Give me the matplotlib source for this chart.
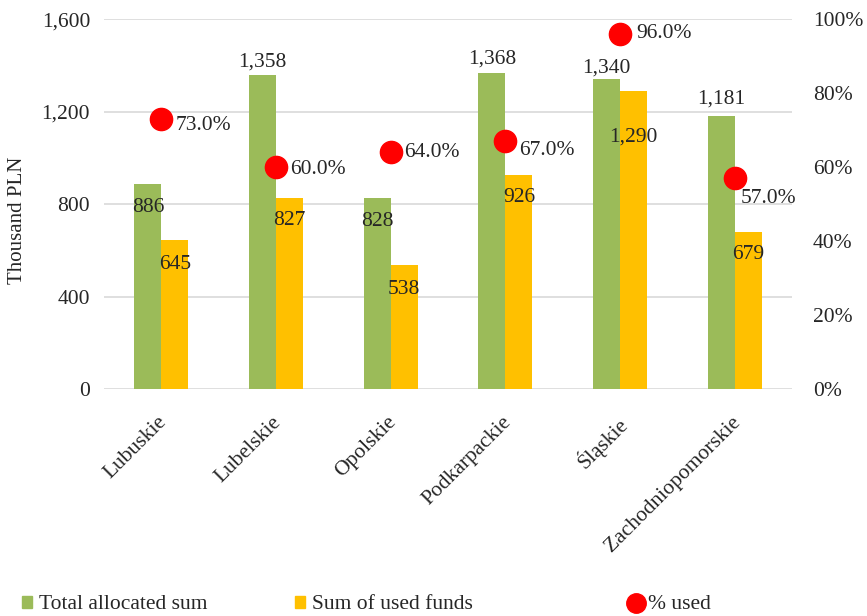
import matplotlib.pyplot as plt
import matplotlib.transforms as mtransforms
from matplotlib.lines import Line2D
from matplotlib.patches import Patch
import numpy as np

plt.rcParams['font.family'] = ['Liberation Serif', 'DejaVu Serif']

regions = ["Lubuskie", "Lubelskie", "Opolskie", "Podkarpackie", "Śląskie", "Zachodniopomorskie"]
allocated = [886, 1358, 828, 1368, 1340, 1181]
used = [645, 827, 538, 926, 1290, 679]
pct_used = [73.0, 60.0, 64.0, 67.0, 96.0, 57.0]

# label offsets (points) tweaked by eye to follow the original placement
alloc_off = [-17, 9, -17, 9.5, 8, 12.5]
used_off = [-18, -16, -18, -16, -33, -16]
pct_off = [(10, -4.5), (10, -2), (10, 0), (10, -6.5), (11.5, 0), (4.5, -15)]

green = "#9BBB59"
yellow = "#FFC000"
red = "#FF0000"
txt = "#262626"
fs = 15.5

fig = plt.figure(figsize=(8.67, 6.16), dpi=100)
ax = fig.add_axes([0.12, 0.3685, 0.7935, 0.6005])
ax2 = ax.twinx()

x = np.arange(len(regions))
w = 0.235
ax.bar(x - w / 2, allocated, w, color=green, zorder=3)
ax.bar(x + w / 2, used, w, color=yellow, zorder=3)

for i in range(len(x)):
    ax.annotate(f"{allocated[i]:,}", (x[i] - w / 2, allocated[i]), xytext=(0, alloc_off[i]),
                textcoords="offset points", ha="center", va="center", fontsize=fs, color=txt, zorder=5)
    ax.annotate(f"{used[i]:,}", (x[i] + w / 2, used[i]), xytext=(0, used_off[i]),
                textcoords="offset points", ha="center", va="center", fontsize=fs, color=txt, zorder=5)

ax2.plot(x, np.array(pct_used) / 100, 'o', color=red, markersize=16, zorder=4)
for i in range(len(x)):
    ax2.annotate(f"{pct_used[i]:.1f}%", (x[i], pct_used[i] / 100), xytext=pct_off[i],
                 textcoords="offset points", ha="left", va="center", fontsize=fs, color=txt)

ax.set_xlim(-0.5, len(regions) - 0.5)
ax.set_ylim(0, 1600)
ax.set_yticks([0, 400, 800, 1200, 1600])
ax.set_yticklabels(["0", "400", "800", "1,200", "1,600"])
ax2.set_ylim(0, 1)
ax2.set_yticks([0, 0.2, 0.4, 0.6, 0.8, 1.0])
ax2.set_yticklabels(["0%", "20%", "40%", "60%", "80%", "100%"])

ax.grid(axis='y', color="#D9D9D9", linewidth=1.2, zorder=0)
for a in (ax, ax2):
    for s in a.spines.values():
        s.set_visible(False)
    a.tick_params(length=0, labelsize=fs, colors=txt)
ax.tick_params(axis='y', pad=10)
ax2.tick_params(axis='y', pad=15)

ax.set_xticks(x)
ax.set_xticklabels(regions, rotation=45, ha="right", rotation_mode="anchor", fontsize=fs, color=txt)
ax.tick_params(axis='x', pad=17)
shift = mtransforms.ScaledTranslation(-4 / 100, 0, fig.dpi_scale_trans)
for lab in ax.get_xticklabels():
    lab.set_transform(lab.get_transform() + shift)

ax.set_ylabel("Thousand PLN", fontsize=15, color=txt)
ax.yaxis.set_label_coords(-0.112, 0.457)

# legend entries spread across the bottom like the original
items = [
    (Patch(color=green), "Total allocated sum", 22, 0.47, 0.33),
    (Patch(color=yellow), "Sum of used funds", 295, 0.47, 0.3),
    (Line2D([], [], marker='o', color=red, linestyle='none', markersize=14), "% used", 626, 0.9, 0.1),
]
for h, lab, xpx, hl, pad in items:
    fig.legend([h], [lab], loc="center left", bbox_to_anchor=(xpx / 867, 0.018), frameon=False,
               borderpad=0, borderaxespad=0, fontsize=fs, handlelength=hl, handleheight=0.47,
               handletextpad=pad, labelcolor=txt)

fig.savefig("out.png", dpi=100)
